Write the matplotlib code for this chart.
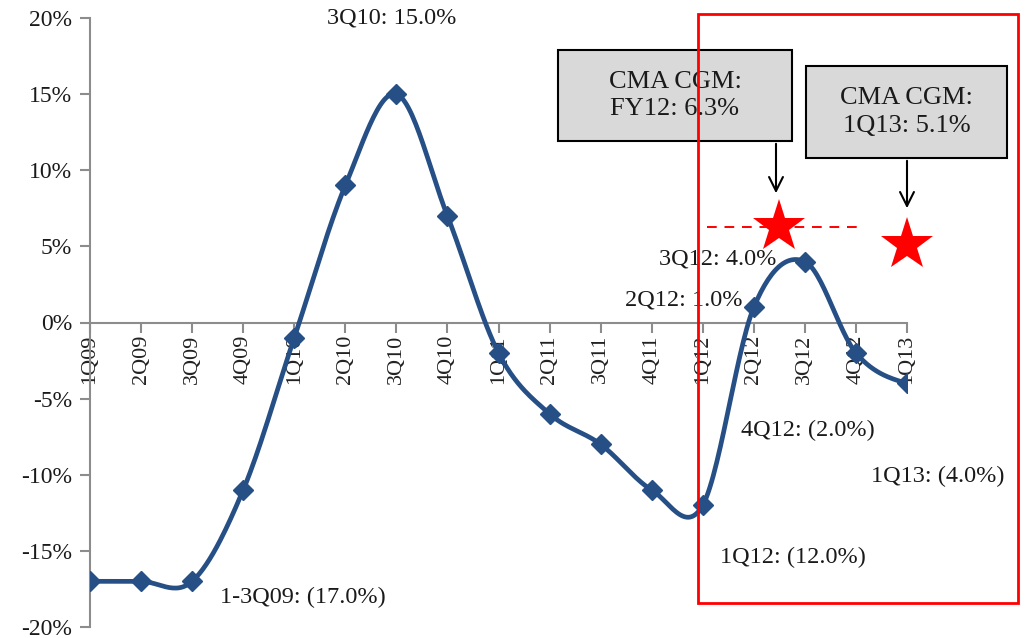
import numpy as np
import matplotlib
matplotlib.use("Agg")
import matplotlib.pyplot as plt
from matplotlib.patches import Rectangle, FancyArrowPatch

plt.rcParams['font.family'] = ['Liberation Serif', 'DejaVu Serif']

quarters = ["1Q09", "2Q09", "3Q09", "4Q09", "1Q10", "2Q10", "3Q10", "4Q10",
            "1Q11", "2Q11", "3Q11", "4Q11", "1Q12", "2Q12", "3Q12", "4Q12", "1Q13"]
growth = [-17, -17, -17, -11, -1, 9, 15, 7, -2, -6, -8, -11, -12, 1, 4, -2, -4]
y_ticks = [-20, -15, -10, -5, 0, 5, 10, 15, 20]

cma_fy12 = 6.3
cma_1q13 = 5.1

point_labels = [
    (6, "3Q10: 15.0%"),
    (14, "3Q12: 4.0%"),
    (13, "2Q12: 1.0%"),
    (15, "4Q12: (2.0%)"),
    (16, "1Q13: (4.0%)"),
    (12, "1Q12: (12.0%)"),
    (2, "1-3Q09: (17.0%)"),
]

LINE = "#264F86"
W, H = 1025, 638


def fx(px):
    return px / W


def fy(py):
    return 1 - py / H


def smooth_curve(xs, ys, n=30):
    """Catmull-Rom spline through the points (spreadsheet-style smoothed line)."""
    xs = np.asarray(xs, float)
    ys = np.asarray(ys, float)
    px = np.concatenate([[2 * xs[0] - xs[1]], xs, [2 * xs[-1] - xs[-2]]])
    py = np.concatenate([[ys[0]], ys, [ys[-1]]])
    outx, outy = [], []
    t = np.linspace(0, 1, n)
    for i in range(1, len(px) - 2):
        p0, p1, p2, p3 = [np.array([px[j], py[j]]) for j in (i - 1, i, i + 1, i + 2)]
        c1 = p1 + (p2 - p0) / 6.0
        c2 = p2 - (p3 - p1) / 6.0
        b = ((1 - t) ** 3)[:, None] * p1 + (3 * (1 - t) ** 2 * t)[:, None] * c1 \
            + (3 * (1 - t) * t ** 2)[:, None] * c2 + (t ** 3)[:, None] * p2
        outx.extend(b[:, 0])
        outy.extend(b[:, 1])
    return np.array(outx), np.array(outy)


fig = plt.figure(figsize=(W / 100, H / 100), dpi=100)
ax = fig.add_axes([fx(90), fy(627), fx(907) - fx(90), fy(18) - fy(627)])

for s in ("top", "right"):
    ax.spines[s].set_visible(False)
ax.spines['bottom'].set_position(('data', 0))
for s in ("left", "bottom"):
    ax.spines[s].set_color("#8C8C8C")
    ax.spines[s].set_linewidth(1.5)

x = np.arange(len(quarters))
sx, sy = smooth_curve(x, growth)
ax.plot(sx, sy, color=LINE, lw=3.4, solid_capstyle='round', zorder=3)
ax.plot(x, growth, linestyle='none', marker='D', markersize=10.5, color=LINE, zorder=4)

ax.set_xlim(0, len(quarters) - 1)
ax.set_ylim(-20, 20)
ax.set_yticks(y_ticks)
ax.set_yticklabels([f"{v}%" for v in y_ticks], fontsize=17, color="#1a1a1a")
ax.set_xticks(x)
ax.set_xticklabels(quarters, rotation=90, fontsize=16, color="#222222")
ax.tick_params(axis='both', color="#8C8C8C", width=1.5, length=7, direction='out')
ax.tick_params(axis='y', pad=6)
ax.tick_params(axis='x', pad=2)

# Value annotations, offsets from each marked point
label_pos = {
    6: dict(dx=-0.1, dy=5.0, ha='center'),
    14: dict(dx=-0.55, dy=0.2, ha='right'),
    13: dict(dx=-0.23, dy=0.45, ha='right'),
    15: dict(dx=-2.25, dy=-5.06, ha='left'),
    16: dict(dx=-0.7, dy=-6.1, ha='left'),
    12: dict(dx=0.34, dy=-3.42, ha='left'),
    2: dict(dx=0.55, dy=-1.04, ha='left'),
}
for idx, txt in point_labels:
    p = label_pos[idx]
    ax.text(idx + p['dx'], growth[idx] + p['dy'], txt, ha=p['ha'], va='center',
            fontsize=17.5, color="#1a1a1a", zorder=5, clip_on=False)

# FY12 benchmark: dashed line across 1Q12-4Q12 with star in the middle
ax.plot([12.08, 15.02], [cma_fy12, cma_fy12], color='red', lw=1.4, ls=(0, (5, 4)), zorder=2)
ax.plot([13.5], [cma_fy12], marker='*', color='red', markersize=40, zorder=5,
        markeredgewidth=0)
ax.plot([16], [cma_1q13], marker='*', color='red', markersize=40, zorder=5,
        markeredgewidth=0, clip_on=False)

# Callout boxes with downward arrows
boxes = [
    ((558, 50, 792, 141), "CMA CGM:\nFY12: 6.3%", (776, 141, 196)),
    ((806, 66, 1007, 158), "CMA CGM:\n1Q13: 5.1%", (907, 158, 211)),
]
for (x0, y0, x1, y1), txt, (ax_x, a0, a1) in boxes:
    fig.patches.append(Rectangle((fx(x0), fy(y1)), fx(x1) - fx(x0), fy(y0) - fy(y1),
                                 transform=fig.transFigure, fc="#D9D9D9", ec='black',
                                 lw=1.5, zorder=8))
    fig.text(fx((x0 + x1) / 2), fy((y0 + y1) / 2), txt, ha='center', va='center',
             fontsize=19, color="#1a1a1a", zorder=9, linespacing=1.3)
    fig.patches.append(FancyArrowPatch((fx(ax_x), fy(a0)), (fx(ax_x), fy(a1)),
                                       transform=fig.transFigure,
                                       arrowstyle='->,head_width=5,head_length=10',
                                       color='black', lw=1.5, zorder=8))

# Highlight frame around the 2012 period
fig.patches.append(Rectangle((fx(698), fy(603)), fx(1018) - fx(698), fy(14) - fy(603),
                             transform=fig.transFigure, fill=False, ec='red', lw=2, zorder=10))

fig.savefig("out.png", dpi=100)
